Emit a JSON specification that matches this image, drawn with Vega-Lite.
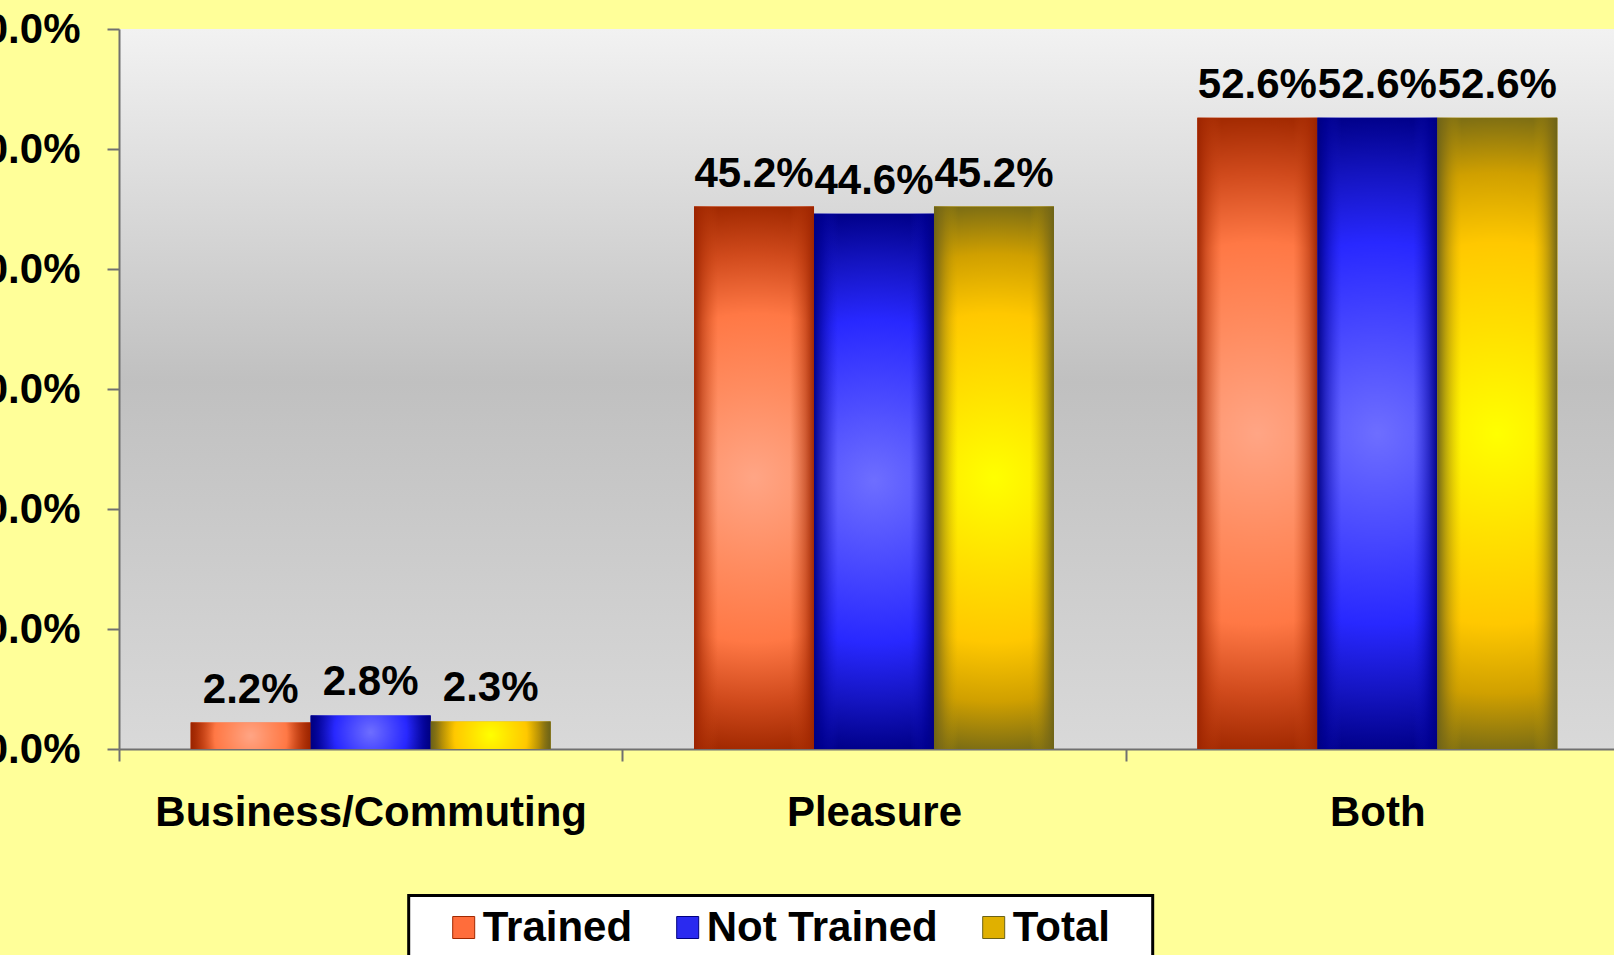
{
  "$schema": "https://vega.github.io/schema/vega-lite/v6.json",
  "width": 1495,
  "height": 720,
  "autosize": "none",
  "padding": {"left": 119, "top": 29, "right": 0, "bottom": 206},
  "background": "#FFFF99",
  "config": {
    "font": "Liberation Sans",
    "view": {
      "stroke": null,
      "fill": {"gradient": "linear", "x1": 0, "y1": 0, "x2": 0, "y2": 1,
        "stops": [{"offset": 0, "color": "#F2F2F2"}, {"offset": 0.49, "color": "#C0C0C0"}, {"offset": 1, "color": "#D9D9D9"}]}
    },
    "axis": {
      "labelFont": "Liberation Sans",
      "labelFontSize": 42,
      "labelFontWeight": "bold",
      "labelColor": "#000000",
      "tickSize": 12,
      "tickColor": "#707070",
      "tickWidth": 2,
      "domainColor": "#707070",
      "domainWidth": 2,
      "grid": false,
      "title": null,
      "labelLimit": 0,
      "labelOverlap": false,
      "labelFlush": false
    }
  },
  "data": {
    "values": [
      {"cat": "Business/Commuting", "series": "Trained", "value": 0.022},
      {"cat": "Business/Commuting", "series": "Not Trained", "value": 0.028},
      {"cat": "Business/Commuting", "series": "Total", "value": 0.023},
      {"cat": "Pleasure", "series": "Trained", "value": 0.452},
      {"cat": "Pleasure", "series": "Not Trained", "value": 0.446},
      {"cat": "Pleasure", "series": "Total", "value": 0.452},
      {"cat": "Both", "series": "Trained", "value": 0.526},
      {"cat": "Both", "series": "Not Trained", "value": 0.526},
      {"cat": "Both", "series": "Total", "value": 0.526}
    ]
  },
  "encoding": {
    "x": {
      "field": "cat", "type": "nominal",
      "sort": ["Business/Commuting", "Pleasure", "Both"],
      "scale": {"range": [0, 1510], "paddingInner": 0.285, "paddingOuter": 0.1425},
      "axis": {"labelAngle": 0, "tickOffset": -251.67, "labelOffset": 251.67, "labelPadding": 31, "labelBaseline": "top"}
    },
    "xOffset": {
      "field": "series", "type": "nominal",
      "sort": ["Trained", "Not Trained", "Total"],
      "scale": {"paddingInner": 0, "paddingOuter": 0}
    },
    "y": {
      "field": "value", "type": "quantitative",
      "scale": {"domain": [0, 0.6], "nice": false},
      "axis": {"format": ".1%", "values": [0, 0.1, 0.2, 0.3, 0.4, 0.5, 0.6], "labelPadding": 27}
    }
  },
  "layer": [
    {
      "mark": {"type": "bar"},
      "encoding": {
        "color": {
          "field": "series", "type": "nominal",
          "scale": {"domain": ["Trained", "Not Trained", "Total"], "range": ["#FF6D3B", "#2A2AF0", "#E0B000"]},
          "legend": {
            "orient": "none",
            "direction": "horizontal",
            "legendX": 289.7,
            "legendY": 866.5,
            "title": "\u00a0",
            "titleOrient": "left",
            "titleFontSize": 10,
            "titlePadding": 23,
            "padding": 11,
            "fillColor": "#FFFFFF",
            "strokeColor": "#000000",
            "symbolType": "square",
            "symbolSize": 484,
            "symbolStrokeWidth": 1,
            "symbolOpacity": 1,
            "labelFont": "Liberation Sans",
            "labelFontSize": 42,
            "labelFontWeight": "bold",
            "labelColor": "#000000",
            "labelOffset": -2,
            "labelLimit": 500,
            "columnPadding": 34,
            "labelExpr": "datum.label === 'Total' ? 'Total\u2800' : datum.label",
            "encode": {
              "legend": {"update": {"strokeWidth": {"value": 3}}},
              "symbols": {"update": {
                "stroke": {"signal": "datum.value === 'Trained' ? '#A02800' : datum.value === 'Not Trained' ? '#000080' : '#6B6218'"}
              }}
            }
          }
        }
      }
    },
    {
      "transform": [{"filter": "datum.series === 'Trained'"}],
      "mark": {"type": "bar", "fill": {"gradient": "radial", "x1": 0.5, "y1": 0.5, "r1": 0, "x2": 0.5, "y2": 0.5, "r2": 0.55,
        "stops": [{"offset": 0, "color": "#FFA585"}, {"offset": 0.3, "color": "#FF8C60"}, {"offset": 0.55, "color": "#FF7845"}, {"offset": 0.75, "color": "#D04A1C"}, {"offset": 0.92, "color": "#A02800"}, {"offset": 1, "color": "#962300"}]}}
    },
    {
      "transform": [{"filter": "datum.series === 'Not Trained'"}],
      "mark": {"type": "bar", "fill": {"gradient": "radial", "x1": 0.5, "y1": 0.5, "r1": 0, "x2": 0.5, "y2": 0.5, "r2": 0.55,
        "stops": [{"offset": 0, "color": "#6E6EFF"}, {"offset": 0.3, "color": "#4848FF"}, {"offset": 0.55, "color": "#2828FF"}, {"offset": 0.75, "color": "#1414C0"}, {"offset": 0.92, "color": "#000088"}, {"offset": 1, "color": "#00007A"}]}}
    },
    {
      "transform": [{"filter": "datum.series === 'Total'"}],
      "mark": {"type": "bar", "fill": {"gradient": "radial", "x1": 0.5, "y1": 0.5, "r1": 0, "x2": 0.5, "y2": 0.5, "r2": 0.55,
        "stops": [{"offset": 0, "color": "#FFFF00"}, {"offset": 0.3, "color": "#FFE000"}, {"offset": 0.55, "color": "#FFC800"}, {"offset": 0.75, "color": "#D0A000"}, {"offset": 0.92, "color": "#7A6C14"}, {"offset": 1, "color": "#6B6218"}]}}
    },
    {
      "transform": [{"filter": "datum.series === 'Trained'"}],
      "mark": {"type": "bar", "fill": {"gradient": "linear", "x1": 0, "y1": 0, "x2": 1, "y2": 0,
        "stops": [{"offset": 0, "color": "rgba(155,35,0,0.95)"}, {"offset": 0.07, "color": "rgba(170,45,5,0.55)"}, {"offset": 0.2, "color": "rgba(200,70,20,0)"}, {"offset": 0.8, "color": "rgba(200,70,20,0)"}, {"offset": 0.93, "color": "rgba(170,45,5,0.55)"}, {"offset": 1, "color": "rgba(155,35,0,0.95)"}]}}
    },
    {
      "transform": [{"filter": "datum.series === 'Not Trained'"}],
      "mark": {"type": "bar", "fill": {"gradient": "linear", "x1": 0, "y1": 0, "x2": 1, "y2": 0,
        "stops": [{"offset": 0, "color": "rgba(0,0,128,0.95)"}, {"offset": 0.07, "color": "rgba(0,0,150,0.55)"}, {"offset": 0.2, "color": "rgba(20,20,200,0)"}, {"offset": 0.8, "color": "rgba(20,20,200,0)"}, {"offset": 0.93, "color": "rgba(0,0,150,0.55)"}, {"offset": 1, "color": "rgba(0,0,128,0.95)"}]}}
    },
    {
      "transform": [{"filter": "datum.series === 'Total'"}],
      "mark": {"type": "bar", "fill": {"gradient": "linear", "x1": 0, "y1": 0, "x2": 1, "y2": 0,
        "stops": [{"offset": 0, "color": "rgba(107,98,24,0.95)"}, {"offset": 0.07, "color": "rgba(130,110,20,0.55)"}, {"offset": 0.2, "color": "rgba(200,160,0,0)"}, {"offset": 0.8, "color": "rgba(200,160,0,0)"}, {"offset": 0.93, "color": "rgba(130,110,20,0.55)"}, {"offset": 1, "color": "rgba(107,98,24,0.95)"}]}}
    },
    {
      "mark": {"type": "text", "font": "Liberation Sans", "fontSize": 42, "fontWeight": "bold", "color": "#000000", "baseline": "alphabetic", "dy": -20},
      "encoding": {
        "text": {"field": "value", "type": "quantitative", "format": ".1%"}
      }
    }
  ]
}
